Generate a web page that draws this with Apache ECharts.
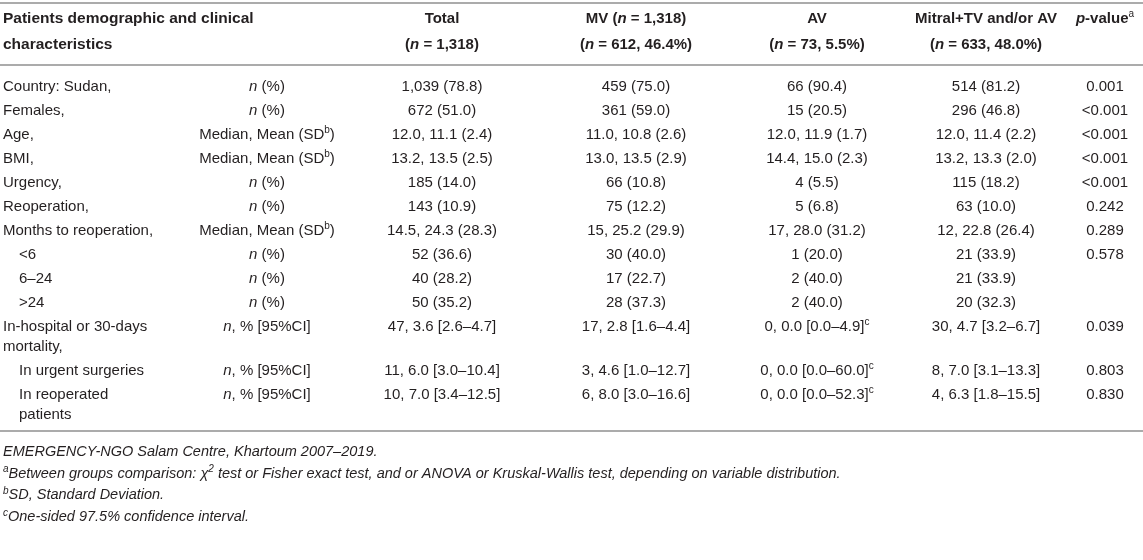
<!DOCTYPE html>
<html>
<head>
<meta charset="utf-8">
<script src="https://cdn.jsdelivr.net/npm/echarts@6/dist/echarts.min.js"></script>
<style>
  html, body { margin: 0; padding: 0; background: #fff; }
  #main { width: 1143px; height: 560px; }
</style>
</head>
<body>
<div id="main"></div>
<script>
// _x_ = italic, ^x^ = superscript
const headerLine1 = ['Total', 'MV (_n_ = 1,318)', 'AV', 'Mitral+TV and/or AV', '_p_-value^a^']
const headerLine2 = ['(_n_ = 1,318)', '(_n_ = 612, 46.4%)', '(_n_ = 73, 5.5%)', '(_n_ = 633, 48.0%)', '']
const firstHeader = ['Patients demographic and clinical', 'characteristics']

const rowLabels = [
  'Country: Sudan,', 'Females,', 'Age,', 'BMI,', 'Urgency,', 'Reoperation,',
  'Months to reoperation,', '<6', '6–24', '>24',
  'In-hospital or 30-days\nmortality,', 'In urgent surgeries', 'In reoperated\npatients'
]
const rowLevel = [0, 0, 0, 0, 0, 0, 0, 1, 1, 1, 0, 1, 1]
const statTypes = [
  '_n_ (%)', '_n_ (%)', 'Median, Mean (SD^b^)', 'Median, Mean (SD^b^)', '_n_ (%)', '_n_ (%)',
  'Median, Mean (SD^b^)', '_n_ (%)', '_n_ (%)', '_n_ (%)',
  '_n_, % [95%CI]', '_n_, % [95%CI]', '_n_, % [95%CI]'
]
const totalCol = [
  '1,039 (78.8)', '672 (51.0)', '12.0, 11.1 (2.4)', '13.2, 13.5 (2.5)', '185 (14.0)', '143 (10.9)',
  '14.5, 24.3 (28.3)', '52 (36.6)', '40 (28.2)', '50 (35.2)',
  '47, 3.6 [2.6–4.7]', '11, 6.0 [3.0–10.4]', '10, 7.0 [3.4–12.5]'
]
const mvCol = [
  '459 (75.0)', '361 (59.0)', '11.0, 10.8 (2.6)', '13.0, 13.5 (2.9)', '66 (10.8)', '75 (12.2)',
  '15, 25.2 (29.9)', '30 (40.0)', '17 (22.7)', '28 (37.3)',
  '17, 2.8 [1.6–4.4]', '3, 4.6 [1.0–12.7]', '6, 8.0 [3.0–16.6]'
]
const avCol = [
  '66 (90.4)', '15 (20.5)', '12.0, 11.9 (1.7)', '14.4, 15.0 (2.3)', '4 (5.5)', '5 (6.8)',
  '17, 28.0 (31.2)', '1 (20.0)', '2 (40.0)', '2 (40.0)',
  '0, 0.0 [0.0–4.9]^c^', '0, 0.0 [0.0–60.0]^c^', '0, 0.0 [0.0–52.3]^c^'
]
const mitralCol = [
  '514 (81.2)', '296 (46.8)', '12.0, 11.4 (2.2)', '13.2, 13.3 (2.0)', '115 (18.2)', '63 (10.0)',
  '12, 22.8 (26.4)', '21 (33.9)', '21 (33.9)', '20 (32.3)',
  '30, 4.7 [3.2–6.7]', '8, 7.0 [3.1–13.3]', '4, 6.3 [1.8–15.5]'
]
const pValues = [
  '0.001', '<0.001', '<0.001', '<0.001', '<0.001', '0.242',
  '0.289', '0.578', '', '',
  '0.039', '0.803', '0.830'
]
const footnotes = [
  'EMERGENCY-NGO Salam Centre, Khartoum 2007–2019.',
  '^a^Between groups comparison: χ^2^ test or Fisher exact test, and or ANOVA or Kruskal-Wallis test, depending on variable distribution.',
  '^b^SD, Standard Deviation.',
  '^c^One-sided 97.5% confidence interval.'
]

const FONT = '"Liberation Sans", Arial, Helvetica, sans-serif'
const INK = '#231f20'
const RULE = '#ababab'
const W = 1143
const dataCols = [totalCol, mvCol, avCol, mitralCol, pValues]
const colX = [442, 636, 817, 986, 1105]
const statX = 267
const labelX = 3
const indent = 16
const rowTop = 87      // centre of first body line
const rowPitch = 24
const lineGap = 20

// turn the little markup into zrender rich text
function toRich(str) {
  return str.split(/(_[^_]+_|\^[^^]+\^)/).filter(function (s) { return s }).map(function (s) {
    if (s[0] === '_') return '{i|' + s.slice(1, -1) + '}'
    if (s[0] === '^') return '{s|' + s.slice(1, -1) + '}'
    return '{r|' + s + '}'
  }).join('')
}

function richStyle(size, weight, lh, italicAll) {
  let sup = Math.round(size * 0.68)
  return {
    r: {fontSize: size, fontWeight: weight, fontStyle: italicAll ? 'italic' : 'normal', fontFamily: FONT, lineHeight: lh, fill: INK},
    i: {fontSize: size, fontWeight: weight, fontStyle: 'italic', fontFamily: FONT, lineHeight: lh, fill: INK},
    s: {fontSize: sup, fontWeight: 'normal', fontStyle: italicAll ? 'italic' : 'normal', fontFamily: FONT, lineHeight: sup, verticalAlign: 'top', fill: INK}
  }
}

function textEl(str, x, yCenter, align, size, weight, lh, italicAll) {
  return {
    type: 'text',
    x: x,
    y: yCenter - lh / 2,
    silent: true,
    style: {
      text: toRich(str),
      align: align,
      verticalAlign: 'top',
      rich: richStyle(size, weight, lh, italicAll)
    }
  }
}

function rule(y) {
  return {
    type: 'line',
    silent: true,
    shape: {x1: 0, y1: y, x2: W, y2: y},
    style: {stroke: RULE, lineWidth: 2}
  }
}

let els = []
els.push(rule(3))
els.push(rule(65))

// header
let h1 = 19
let h2 = 45
els.push(textEl(firstHeader[0], labelX, h1, 'left', 15.5, 'bold', 20))
els.push(textEl(firstHeader[1], labelX, h2, 'left', 15.5, 'bold', 20))
headerLine1.forEach(function (t, c) {
  els.push(textEl(t, colX[c], h1, 'center', 15, 'bold', 20))
  if (headerLine2[c]) els.push(textEl(headerLine2[c], colX[c], h2, 'center', 15, 'bold', 20))
})

// body
let y = rowTop
rowLabels.forEach(function (label, i) {
  els.push(textEl(label, labelX + rowLevel[i] * indent, y, 'left', 15, 'normal', lineGap))
  els.push(textEl(statTypes[i], statX, y, 'center', 15, 'normal', lineGap))
  dataCols.forEach(function (col, c) {
    if (col[i]) els.push(textEl(col[i], colX[c], y, 'center', 15, 'normal', lineGap))
  })
  let extra = label.split('\n').length - 1
  y += rowPitch + extra * lineGap
})

let bottom = y - rowPitch + 16
els.push(rule(bottom))

// footnotes
footnotes.forEach(function (t, i) {
  els.push(textEl(t, labelX, bottom + 21 + i * 21.7, 'left', 14.5, 'normal', 18, true))
})

let myChart = echarts.init(document.getElementById('main'))
myChart.setOption({
  animation: false,
  backgroundColor: '#fff',
  graphic: els
})
</script>
</body>
</html>
